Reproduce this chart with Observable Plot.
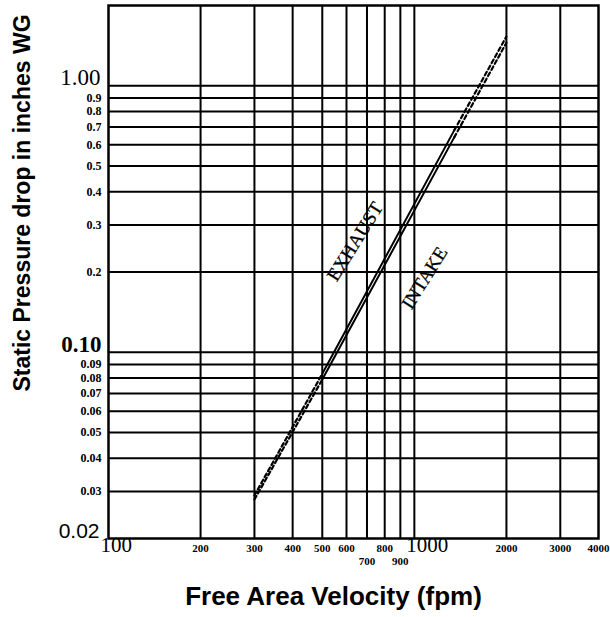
<!DOCTYPE html>
<html>
<head>
<meta charset="utf-8">
<script src="https://cdn.jsdelivr.net/npm/d3@7"></script>
<script src="https://cdn.jsdelivr.net/npm/@observablehq/plot@0.6"></script>
<style>
  html, body { margin: 0; padding: 0; background: #fff; }
  #chart svg { display: block; }
</style>
</head>
<body>
<div id="chart"></div>
<script>
// ---- data ----
const xGrid = [200, 300, 400, 500, 600, 700, 800, 900, 1000, 2000, 3000];
const yGrid = [0.03, 0.04, 0.05, 0.06, 0.07, 0.08, 0.09, 0.1, 0.2, 0.3, 0.4, 0.5, 0.6, 0.7, 0.8, 0.9, 1.0];

const xSmallTicks = [200, 300, 400, 500, 600, 800, 2000, 3000, 4000];
const xLowTicks = [700, 900];
const xBigTicks = [100, 1000];

const ySmallTicks = [0.9, 0.8, 0.7, 0.6, 0.5, 0.4, 0.3, 0.2, 0.09, 0.08, 0.07, 0.06, 0.05, 0.04, 0.03];
const ySmallLabels = ["0.9", "0.8", "0.7", "0.6", "0.5", "0.4", "0.3", "0.2", "0.09", "0.08", "0.07", "0.06", "0.05", "0.04", "0.03"];

// curves: velocity (fpm) vs static pressure drop (in. WG)
const exhaustV = [300, 500, 1350, 2000];
const exhaustP = [0.029, 0.083, 0.68, 1.53];
const intakeV = [300, 500, 1350, 2000];
const intakeP = [0.028, 0.079, 0.64, 1.45];

const curveNames = ["EXHAUST", "INTAKE"];
const curveLabelV = [640, 1080];
const curveLabelP = [0.26, 0.19];

// ---- build ----
function pts(vs, ps) { return vs.map((v, i) => ({v, p: ps[i]})); }
const ex = pts(exhaustV, exhaustP);
const inn = pts(intakeV, intakeP);
const segs = (a) => ({lo: a.slice(0, 2), mid: a.slice(1, 3), hi: a.slice(2, 4)});
const exS = segs(ex), inS = segs(inn);

const serif = "'Liberation Serif', 'DejaVu Serif', serif";
const sans = "'Liberation Sans', Arial, sans-serif";

const lineOpts = {x: "v", y: "p", stroke: "black", strokeWidth: 2};
const dashOpts = {...lineOpts, strokeWidth: 2.2, strokeDasharray: "4,3"};

const chart = Plot.plot({
  width: 610,
  height: 617,
  marginLeft: 108,
  marginRight: 12,
  marginTop: 5,
  marginBottom: 79,
  style: {background: "white", color: "black"},
  x: {type: "log", domain: [100, 4000], axis: null},
  y: {type: "log", domain: [0.02, 2], axis: null},
  marks: [
    Plot.ruleX(xGrid, {stroke: "black", strokeWidth: 2}),
    Plot.ruleY(yGrid, {stroke: "black", strokeWidth: 2}),
    Plot.frame({stroke: "black", strokeWidth: 2.5}),
    // curves
    Plot.line(exS.lo, dashOpts),
    Plot.line(exS.mid, lineOpts),
    Plot.line(exS.hi, dashOpts),
    Plot.line(inS.lo, dashOpts),
    Plot.line(inS.mid, lineOpts),
    Plot.line(inS.hi, dashOpts),
    // curve labels
    Plot.text(curveNames, {
      x: (d, i) => curveLabelV[i], y: (d, i) => curveLabelP[i], text: d => d,
      rotate: -58, fontSize: 19, fontFamily: serif, fill: "black",
      stroke: "black", strokeWidth: 0.3
    }),
    // x tick labels
    Plot.text(xSmallTicks, {
      x: d => d, frameAnchor: "bottom", dy: 13, text: d => String(d),
      fontSize: 11, fontWeight: "bold", fontFamily: serif, fill: "black"
    }),
    Plot.text(xLowTicks, {
      x: d => d, frameAnchor: "bottom", dy: 26, text: d => String(d),
      fontSize: 11, fontWeight: "bold", fontFamily: serif, fill: "black"
    }),
    Plot.text(xBigTicks, {
      x: d => d, frameAnchor: "bottom", dy: 13, dx: -8, textAnchor: "start", text: d => String(d),
      fontSize: 21, fontFamily: serif, fill: "black"
    }),
    // y tick labels
    Plot.text(ySmallTicks, {
      y: d => d, frameAnchor: "left", dx: -7, textAnchor: "end", text: (d, i) => ySmallLabels[i],
      fontSize: 12, fontWeight: "bold", fontFamily: serif, fill: "black"
    }),
    Plot.text([1.0], {
      y: d => d, frameAnchor: "left", dx: -8, dy: -8, textAnchor: "end", text: () => "1.00",
      fontSize: 23, fontFamily: serif, fill: "black"
    }),
    Plot.text([0.1], {
      y: d => d, frameAnchor: "left", dx: -7, dy: -8, textAnchor: "end", text: () => "0.10",
      fontSize: 23, fontWeight: "bold", fontFamily: serif, fill: "black"
    }),
    Plot.text([0.02], {
      y: d => d, frameAnchor: "left", dx: -9, dy: -7, textAnchor: "end", text: () => "0.02",
      fontSize: 21, fontFamily: sans, fill: "black"
    }),
    // axis titles
    Plot.text(["Free Area Velocity (fpm)"], {
      frameAnchor: "bottom", dy: 66, dx: -20, textAnchor: "middle", text: d => d,
      fontSize: 26, fontWeight: "bold", fontFamily: sans, fill: "black"
    }),
    Plot.text(["Static Pressure drop in inches WG"], {
      frameAnchor: "left", dx: -86, dy: -69, rotate: -90, textAnchor: "middle", text: d => d,
      fontSize: 23, fontWeight: "bold", fontFamily: sans, fill: "black"
    })
  ]
});

document.getElementById("chart").appendChild(chart);
</script>
</body>
</html>
